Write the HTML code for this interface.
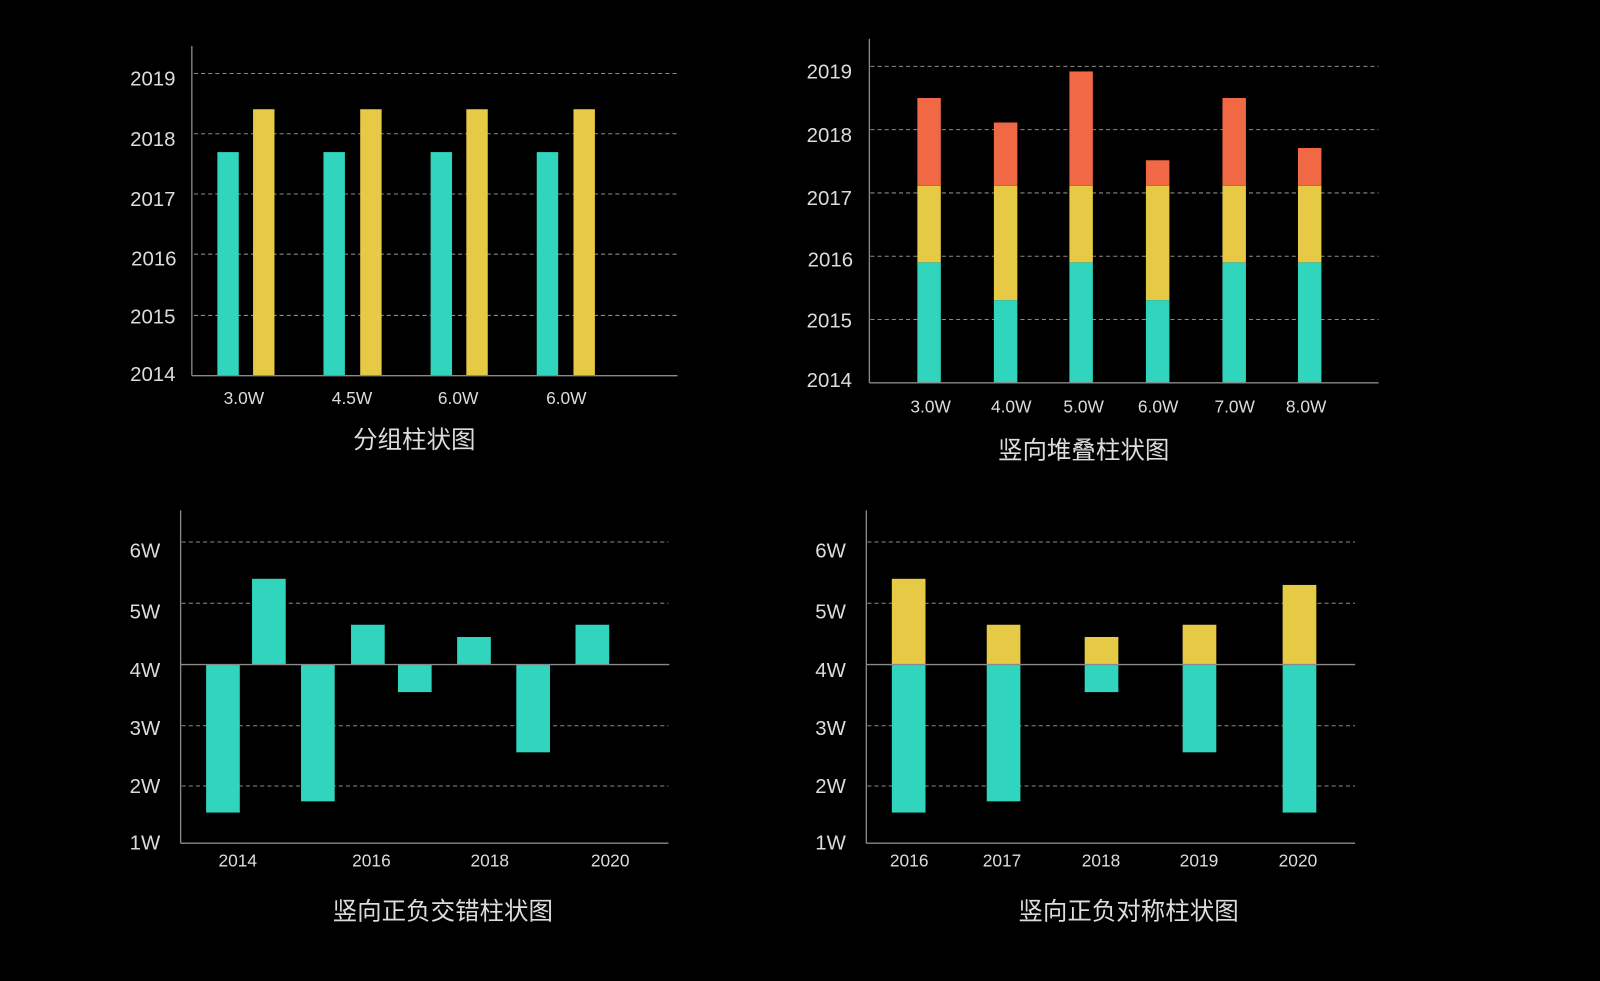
<!DOCTYPE html>
<html><head><meta charset="utf-8"><style>
html,body{margin:0;padding:0;background:#000;width:1600px;height:981px;overflow:hidden}
svg{display:block}
text{font-family:"Liberation Sans","Noto Sans CJK SC",sans-serif;fill:#dcdcdc}
.g{stroke:#8a8a8a;stroke-width:1;stroke-dasharray:4 3}
.a{stroke:#8a8a8a;stroke-width:1.3}
.yl{font-size:20px;text-anchor:end}
.xl{font-size:17px;text-anchor:middle}
.t{font-size:24px;text-anchor:middle}
</style></head><body>
<svg width="1600" height="981" viewBox="0 0 1568 961" preserveAspectRatio="none">
<rect width="1568" height="961" fill="#000"/>
<!-- Chart 1 -->
<g>
<line class="g" x1="190" y1="72" x2="664" y2="72"/>
<line class="g" x1="190" y1="131" x2="664" y2="131"/>
<line class="g" x1="190" y1="190" x2="664" y2="190"/>
<line class="g" x1="190" y1="249" x2="664" y2="249"/>
<line class="g" x1="190" y1="309" x2="664" y2="309"/>
<text class="yl" x="172" y="84">2019</text>
<text class="yl" x="172" y="143">2018</text>
<text class="yl" x="172" y="202">2017</text>
<text class="yl" x="173" y="260">2016</text>
<text class="yl" x="172" y="317">2015</text>
<text class="yl" x="172" y="373">2014</text>
<g fill="#31d5bd"><rect x="213" y="149" width="21" height="219"/><rect x="317" y="149" width="21" height="219"/><rect x="422" y="149" width="21" height="219"/><rect x="526" y="149" width="21" height="219"/></g>
<g fill="#e6c944"><rect x="248" y="107" width="21" height="261"/><rect x="353" y="107" width="21" height="261"/><rect x="457" y="107" width="21" height="261"/><rect x="562" y="107" width="21" height="261"/></g>
<line class="a" x1="188" y1="45" x2="188" y2="368"/>
<line class="a" x1="188" y1="368" x2="664" y2="368"/>
<text class="xl" x="239" y="396">3.0W</text>
<text class="xl" x="345" y="396">4.5W</text>
<text class="xl" x="449" y="396">6.0W</text>
<text class="xl" x="555" y="396">6.0W</text>
<text class="t" x="406" y="439">分组柱状图</text>
</g>
<!-- Chart 2 -->
<g>
<line class="g" x1="853" y1="65" x2="1351" y2="65"/>
<line class="g" x1="853" y1="127" x2="1351" y2="127"/>
<line class="g" x1="853" y1="189" x2="1351" y2="189"/>
<line class="g" x1="853" y1="251" x2="1351" y2="251"/>
<line class="g" x1="853" y1="313" x2="1351" y2="313"/>
<text class="yl" x="835" y="77">2019</text>
<text class="yl" x="835" y="139">2018</text>
<text class="yl" x="835" y="201">2017</text>
<text class="yl" x="836" y="261">2016</text>
<text class="yl" x="835" y="321">2015</text>
<text class="yl" x="835" y="379">2014</text>
<g fill="#31d5bd">
<rect x="899" y="257" width="23" height="118"/><rect x="974" y="294" width="23" height="81"/><rect x="1048" y="257" width="23" height="118"/><rect x="1123" y="294" width="23" height="81"/><rect x="1198" y="257" width="23" height="118"/><rect x="1272" y="257" width="23" height="118"/></g>
<g fill="#e6c944">
<rect x="899" y="182" width="23" height="75"/><rect x="974" y="182" width="23" height="112"/><rect x="1048" y="182" width="23" height="75"/><rect x="1123" y="182" width="23" height="112"/><rect x="1198" y="182" width="23" height="75"/><rect x="1272" y="182" width="23" height="75"/></g>
<g fill="#f06844">
<rect x="899" y="96" width="23" height="86"/><rect x="974" y="120" width="23" height="62"/><rect x="1048" y="70" width="23" height="112"/><rect x="1123" y="157" width="23" height="25"/><rect x="1198" y="96" width="23" height="86"/><rect x="1272" y="145" width="23" height="37"/></g>
<line class="a" x1="852" y1="38" x2="852" y2="375"/>
<line class="a" x1="852" y1="375" x2="1351" y2="375"/>
<text class="xl" x="912" y="404">3.0W</text>
<text class="xl" x="991" y="404">4.0W</text>
<text class="xl" x="1062" y="404">5.0W</text>
<text class="xl" x="1135" y="404">6.0W</text>
<text class="xl" x="1210" y="404">7.0W</text>
<text class="xl" x="1280" y="404">8.0W</text>
<text class="t" x="1062" y="449">竖向堆叠柱状图</text>
</g>
<!-- Chart 3 -->
<g>
<line class="g" x1="178" y1="531" x2="655" y2="531"/>
<line class="g" x1="178" y1="591" x2="655" y2="591"/>
<line class="g" x1="178" y1="711" x2="655" y2="711"/>
<line class="g" x1="178" y1="770" x2="655" y2="770"/>
<text class="yl" x="157" y="546">6W</text>
<text class="yl" x="157" y="606">5W</text>
<text class="yl" x="157" y="663">4W</text>
<text class="yl" x="157" y="720">3W</text>
<text class="yl" x="157" y="777">2W</text>
<text class="yl" x="157" y="832">1W</text>
<g fill="#31d5bd">
<rect x="202" y="651" width="33" height="145"/><rect x="247" y="567" width="33" height="84"/><rect x="295" y="651" width="33" height="134"/><rect x="344" y="612" width="33" height="39"/><rect x="390" y="651" width="33" height="27"/><rect x="448" y="624" width="33" height="27"/><rect x="506" y="651" width="33" height="86"/><rect x="564" y="612" width="33" height="39"/></g>
<line class="a" x1="177" y1="651" x2="656" y2="651"/>
<line class="a" x1="177" y1="500" x2="177" y2="826"/>
<line class="a" x1="177" y1="826" x2="655" y2="826"/>
<text class="xl" x="233" y="849">2014</text>
<text class="xl" x="364" y="849">2016</text>
<text class="xl" x="480" y="849">2018</text>
<text class="xl" x="598" y="849">2020</text>
<text class="t" x="434" y="901">竖向正负交错柱状图</text>
</g>
<!-- Chart 4 -->
<g>
<line class="g" x1="850" y1="531" x2="1328" y2="531"/>
<line class="g" x1="850" y1="591" x2="1328" y2="591"/>
<line class="g" x1="850" y1="711" x2="1328" y2="711"/>
<line class="g" x1="850" y1="770" x2="1328" y2="770"/>
<text class="yl" x="829" y="546">6W</text>
<text class="yl" x="829" y="606">5W</text>
<text class="yl" x="829" y="663">4W</text>
<text class="yl" x="829" y="720">3W</text>
<text class="yl" x="829" y="777">2W</text>
<text class="yl" x="829" y="832">1W</text>
<g fill="#e6c944">
<rect x="874" y="567" width="33" height="84"/><rect x="967" y="612" width="33" height="39"/><rect x="1063" y="624" width="33" height="27"/><rect x="1159" y="612" width="33" height="39"/><rect x="1257" y="573" width="33" height="78"/></g>
<g fill="#31d5bd">
<rect x="874" y="651" width="33" height="145"/><rect x="967" y="651" width="33" height="134"/><rect x="1063" y="651" width="33" height="27"/><rect x="1159" y="651" width="33" height="86"/><rect x="1257" y="651" width="33" height="145"/></g>
<line class="a" x1="849" y1="651" x2="1328" y2="651"/>
<line class="a" x1="849" y1="500" x2="849" y2="826"/>
<line class="a" x1="849" y1="826" x2="1328" y2="826"/>
<text class="xl" x="891" y="849">2016</text>
<text class="xl" x="982" y="849">2017</text>
<text class="xl" x="1079" y="849">2018</text>
<text class="xl" x="1175" y="849">2019</text>
<text class="xl" x="1272" y="849">2020</text>
<text class="t" x="1106" y="901">竖向正负对称柱状图</text>
</g>
</svg>
</body></html>
